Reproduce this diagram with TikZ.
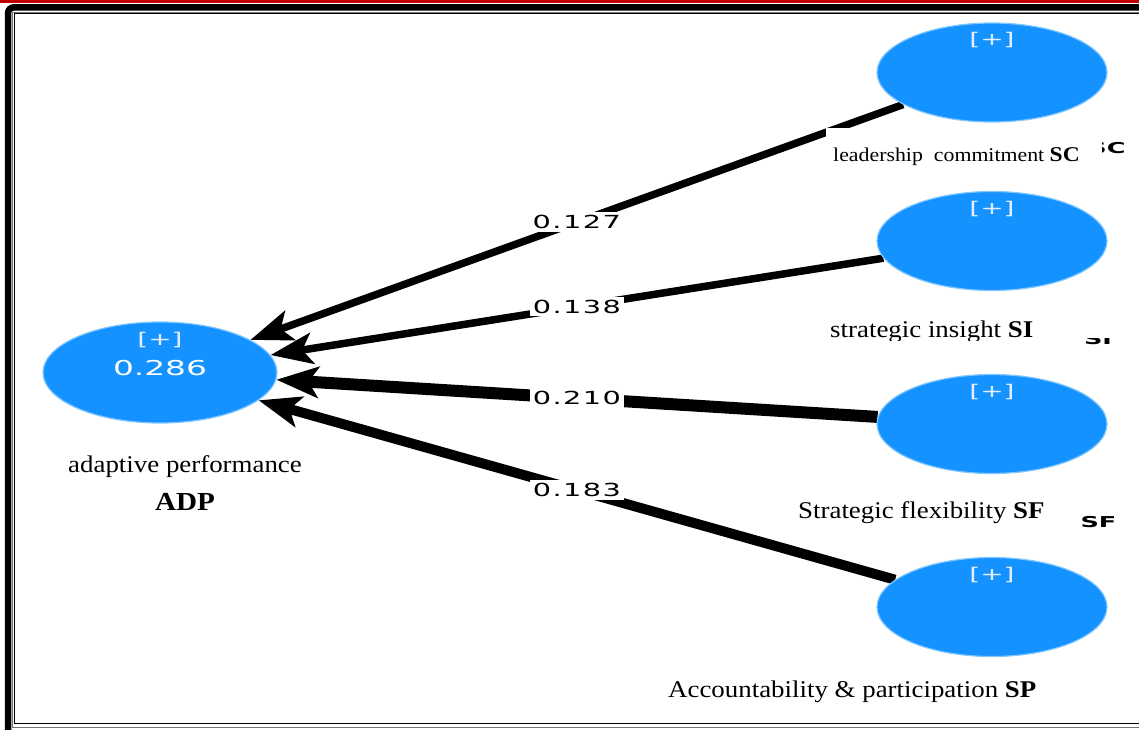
\documentclass[tikz,border=0pt]{standalone}
\usepackage{fontspec}
\setmainfont[FakeStretch=1.12]{Liberation Serif}
\newfontfamily\plsfont[FakeStretch=1.6]{DejaVu Sans}
\newfontfamily\plsboldfont[FakeStretch=1.7]{DejaVu Sans Bold}
\usetikzlibrary{arrows.meta,shapes.geometric}
\pgfdeclarelayer{bg}
\pgfdeclarelayer{paths}
\pgfsetlayers{bg,paths,main}
\definecolor{lvblue}{RGB}{20,146,255}
\definecolor{lvedge}{RGB}{130,200,255}
\definecolor{plustext}{RGB}{228,236,248}
\definecolor{plsred}{RGB}{192,0,0}
\begin{document}
\begin{tikzpicture}[x=1pt,y=-1pt,
  latent/.style={ellipse, fill=lvblue, draw=lvedge, line width=1.2pt,
    minimum width=230pt, minimum height=99pt, inner sep=0pt},
  plus/.style={text=plustext, inner sep=0pt,
    font=\plsfont\fontsize{17.5}{17.5}\selectfont},
  rsq/.style={text=white, inner sep=0pt,
    font=\plsfont\fontsize{20.5}{20.5}\selectfont},
  coef/.style={fill=white, text=black, inner sep=3pt,
    font=\plsfont\fontsize{18}{18}\selectfont\addfontfeature{LetterSpace=8}},
  conn/.style={draw=black, -{Stealth[length=42pt,width=31pt,inset=10pt]}},
  caption/.style={inner sep=0pt, anchor=base west,
    font=\fontsize{24}{24}\selectfont},
  ghost/.style={inner sep=0pt, font=\plsboldfont\fontsize{15}{15}\selectfont}
]
\useasboundingbox (0,0) rectangle (1139,729);

% page frame
\begin{pgfonlayer}{bg}
  \fill[white] (0,0) rectangle (1139,729);
  \fill[plsred] (0,0) rectangle (1139,2.6);
  \draw[line width=6.5pt, rounded corners=6pt] (8,7.3) rectangle (1175,760);
  \draw[black!55, line width=0.8pt] (12.3,12.2) rectangle (1175,727.5);
  \draw[line width=1.4pt] (14.2,13.6) rectangle (1175,723.5);
\end{pgfonlayer}

% latent variables
\node[latent, minimum width=234pt, minimum height=101pt] (ADP) at (160,372.5) {};
\node[latent] (SC) at (992,72.5) {};
\node[latent] (SI) at (992,241) {};
\node[latent] (SF) at (992,424) {};
\node[latent] (SP) at (992,607) {};

\foreach \v in {ADP,SC,SI,SF,SP}
  \node[plus] (plus\v) at ([yshift=32.5pt]\v.center) {[+]};
\node[rsq] (r2ADP) at ([yshift=4.5pt]ADP.center) {0.286};

% structural paths
\begin{pgfonlayer}{paths}
  \draw[conn, line width=7.5pt] (SC) -- node[coef] (cSC) {0.127} (ADP);
  \draw[conn, line width=7.5pt] (SI) -- node[coef] (cSI) {0.138} (ADP);
  \draw[conn, line width=12pt]  (SF) -- node[coef] (cSF) {0.210} (ADP);
  \draw[conn, line width=10pt]  (SP) -- node[coef] (cSP) {0.183} (ADP);
\end{pgfonlayer}

% short construct tags
\begin{scope}
  \clip (1102,130) rectangle (1139,170);
  \node[ghost] (gSC) at (1107,148.5) {SC};
\end{scope}
\begin{scope}
  \clip (1080,338) rectangle (1125,350);
  \node[ghost] (gSI) at (1098,339.5) {SI};
\end{scope}
\node[ghost] (gSF) at (1098.5,522) {SF};

% construct names
\fill[white] (826,128) rectangle (1100,172);
\node[caption] (tSC) at (833,161.7)
  {\fontsize{19.5}{19.5}\selectfont leadership\ \ commitment
   \fontsize{21}{21}\selectfont\bfseries SC};
\begin{scope}
  \clip (815,300) rectangle (1080,340);
  \node[caption] (tSI) at (830,337) {strategic insight \textbf{SI}};
\end{scope}
\node[caption] (tSF) at (798,518) {Strategic flexibility \textbf{SF}};
\node[caption] (tSP) at (668,697) {Accountability \& participation \textbf{SP}};
\node[caption, anchor=base] (tADP) at (185,472) {adaptive performance};
\node[caption, anchor=base, font=\fontsize{26}{26}\selectfont\bfseries] (tADPb) at (185,510) {ADP};
\end{tikzpicture}
\end{document}
